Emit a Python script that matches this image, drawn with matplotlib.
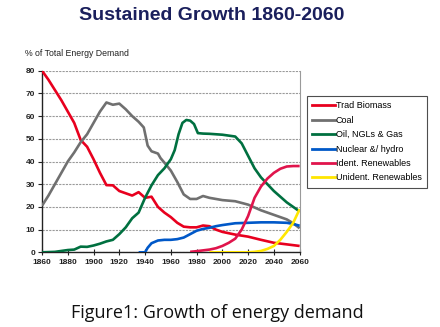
import matplotlib
matplotlib.use("Agg")
import matplotlib.pyplot as plt
from matplotlib.lines import Line2D

plt.rcParams['font.family'] = ['Liberation Sans', 'DejaVu Sans']

# Share of total energy demand (%) by source
biomass_years = [1860, 1865, 1870, 1875, 1880, 1885, 1890, 1895, 1900, 1905, 1910, 1915,
                 1920, 1925, 1930, 1935, 1940, 1945, 1950, 1955, 1960, 1965, 1970, 1975,
                 1980, 1985, 1990, 1995, 2000, 2010, 2020, 2030, 2040, 2050, 2060]
biomass = [80, 76, 71.5, 67, 62, 57, 49.5, 46.5, 41, 35, 29.6, 29.5,
           27, 26, 25, 26.5, 24, 24.5, 20, 17.5, 15.5, 13, 11.3, 11,
           11, 11.8, 11.5, 10, 9, 7.8, 6.9, 5.5, 4.2, 3.5, 2.8]

coal_years = [1860, 1865, 1870, 1875, 1880, 1885, 1890, 1895, 1900, 1905, 1910, 1915,
              1920, 1925, 1930, 1935, 1939, 1942, 1945, 1950, 1952, 1955, 1960, 1965,
              1970, 1975, 1980, 1985, 1990, 2000, 2010, 2020, 2030, 2040, 2050, 2055, 2060]
coal = [20.5, 25, 30, 35, 40, 44, 48.5, 52, 57, 62, 66, 65,
        65.5, 63, 60, 57.5, 55, 47, 44.5, 43.5, 41.5, 39.5, 36, 31,
        25.5, 23.5, 23.5, 24.8, 24, 23, 22.5, 21, 18.5, 16.5, 14.5, 12.8, 10.6]

oil_years = [1860, 1870, 1880, 1885, 1890, 1895, 1900, 1905, 1910, 1915, 1920, 1925,
             1930, 1935, 1940, 1945, 1950, 1955, 1960, 1963, 1966, 1969, 1972, 1975,
             1978, 1981, 1985, 1990, 2000, 2010, 2015, 2020, 2025, 2030, 2035, 2040,
             2045, 2050, 2055, 2060]
oil = [0, 0.2, 1, 1.2, 2.5, 2.4, 3, 3.8, 4.8, 5.5, 8, 11,
       15, 17.5, 24, 29.5, 34, 37, 41, 45, 52, 57, 58.3, 58,
       56.5, 52.5, 52.3, 52.2, 51.8, 51, 48, 42.5, 37, 33, 30, 27,
       24.5, 22, 20, 18]

nuclear_years = [1935, 1940, 1942, 1945, 1950, 1955, 1960, 1965, 1970, 1975, 1980, 1985,
                 1990, 1995, 2000, 2010, 2020, 2030, 2040, 2050, 2055, 2060]
nuclear = [0, 0, 2, 4, 5.2, 5.5, 5.5, 5.8, 6.5, 8, 9.5, 10.3,
           10.8, 11.5, 12, 12.8, 13, 13.2, 13.2, 13, 12.5, 11.7]

ident_years = [1975, 1980, 1990, 1995, 2000, 2005, 2010, 2015, 2020, 2025, 2030, 2035,
               2040, 2045, 2050, 2055, 2060]
ident = [0.2, 0.5, 1.2, 1.8, 2.8, 4.2, 6, 10, 16, 24, 29, 32.5,
         35, 36.8, 37.8, 38, 38]

unident_years = [1990, 2000, 2010, 2020, 2025, 2030, 2035, 2040, 2045, 2050, 2055, 2060]
unident = [0, 0, 0, 0, 0.2, 0.6, 1.5, 2.8, 5.5, 9, 13, 19]

labels = ["Trad Biomass", "Coal", "Oil, NGLs & Gas", "Nuclear &/ hydro",
          "Ident. Renewables", "Unident. Renewables"]
colors = ["#e8001e", "#707070", "#007040", "#0058c8", "#e0144c", "#ffe600"]
x_ticks = list(range(1860, 2061, 20))
y_ticks = list(range(0, 81, 10))

fig = plt.figure(figsize=(4.4, 3.27), dpi=100)
ax = fig.add_axes([0.0955, 0.2284, 0.5855, 0.5554])

series = [(biomass_years, biomass), (coal_years, coal), (oil_years, oil),
          (nuclear_years, nuclear), (ident_years, ident), (unident_years, unident)]
for (xs, ys), c, lab in zip(series, colors, labels):
    ax.plot(xs, ys, color=c, lw=1.9, solid_joinstyle='round',
            solid_capstyle='butt', label=lab, zorder=3)

ax.set_xlim(1860, 2060)
ax.set_ylim(0, 80)
ax.set_xticks(x_ticks)
ax.set_yticks(y_ticks)
ax.tick_params(axis='x', direction='inout', length=4, width=0.8, labelsize=6,
               pad=3, colors='#222222')
ax.tick_params(axis='y', direction='out', length=3, width=0.8, labelsize=6,
               pad=2, colors='#222222')
for lbl in ax.get_xticklabels() + ax.get_yticklabels():
    lbl.set_fontweight('bold')

ax.grid(axis='y', color='#9a9a9a', linestyle=(0, (2, 1)), linewidth=0.8)
ax.set_axisbelow(True)
ax.spines['top'].set_visible(False)
ax.spines['right'].set_color('#9a9a9a')
ax.spines['right'].set_linestyle((0, (2, 1)))
ax.spines['right'].set_linewidth(0.8)
ax.spines['left'].set_color('#222222')
ax.spines['bottom'].set_color('#222222')
ax.spines['left'].set_linewidth(1.0)
ax.spines['bottom'].set_linewidth(1.0)

handles = [Line2D([0], [0], color=c, lw=2) for c in colors]
leg = fig.legend(handles, labels, loc='upper left',
                 bbox_to_anchor=(307 / 440, 1 - 96 / 327), fontsize=6.5,
                 frameon=True, fancybox=False, handlelength=2.5,
                 handletextpad=0.1, labelspacing=0.6, borderpad=0.6,
                 borderaxespad=0)
leg.get_frame().set_edgecolor('#222222')
leg.get_frame().set_linewidth(0.8)

fig.text(212 / 440, 1 - 16 / 327, "Sustained Growth 1860-2060", ha='center', va='center',
         fontsize=14, fontweight='bold', color='#1a1f5c')
fig.text(25 / 440, 1 - 53 / 327, "% of Total Energy Demand", ha='left', va='center',
         fontsize=6.3, color='#222222')
fig.text(0.495, 1 - 313 / 327, "Figure1: Growth of energy demand", ha='center',
         va='center', fontsize=13, color='#111111', family=['Open Sans', 'DejaVu Sans'])

fig.savefig("out.png", dpi=100)
